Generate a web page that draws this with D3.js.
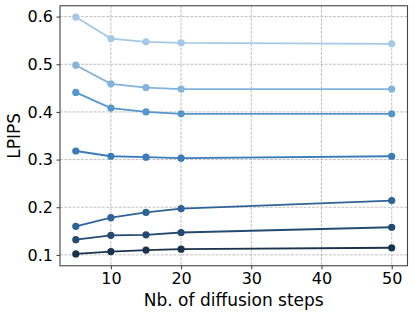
<!DOCTYPE html>
<html>
<head>
<meta charset="utf-8">
<script src="https://cdn.jsdelivr.net/npm/d3@7"></script>
<style>
  html, body { margin: 0; padding: 0; background: #fff; }
  svg { display: block; font-family: "DejaVu Sans", sans-serif; }
</style>
</head>
<body>
<svg id="chart" width="415" height="313"></svg>
<script>
const steps = [5, 10, 15, 20, 50];
const series1 = [0.599, 0.554, 0.547, 0.545, 0.543];
const series2 = [0.498, 0.459, 0.451, 0.448, 0.448];
const series3 = [0.441, 0.408, 0.400, 0.396, 0.396];
const series4 = [0.318, 0.307, 0.305, 0.303, 0.307];
const series5 = [0.160, 0.178, 0.189, 0.197, 0.214];
const series6 = [0.132, 0.141, 0.142, 0.147, 0.158];
const series7 = [0.102, 0.107, 0.110, 0.112, 0.115];
const seriesColors = ["#a5c8e5", "#82b3db", "#5596cd", "#3a7cba", "#2d6396", "#234b72", "#1a334d"];
const xTicks = [10, 20, 30, 40, 50];
const yTicks = [0.1, 0.2, 0.3, 0.4, 0.5, 0.6];
const xLabel = "Nb. of diffusion steps";
const yLabel = "LPIPS";

const allSeries = [series1, series2, series3, series4, series5, series6, series7];

const m = { left: 60, right: 407.5, top: 5.75, bottom: 265.75 };
const svg = d3.select("#chart");

const x = d3.scaleLinear().domain([2.75, 52.25]).range([m.left, m.right]);
const y = d3.scaleLinear().domain([0.0772, 0.6228]).range([m.bottom, m.top]);

// grid
const grid = svg.append("g");
grid.selectAll("line.gx").data(xTicks).enter().append("line")
  .attr("x1", d => x(d)).attr("x2", d => x(d))
  .attr("y1", m.top).attr("y2", m.bottom)
  .attr("stroke", "#b0b0b0").attr("stroke-width", 0.8).attr("stroke-dasharray", "2.9,1.3");
grid.selectAll("line.gy").data(yTicks).enter().append("line")
  .attr("y1", d => y(d)).attr("y2", d => y(d))
  .attr("x1", m.left).attr("x2", m.right)
  .attr("stroke", "#b0b0b0").attr("stroke-width", 0.8).attr("stroke-dasharray", "2.9,1.3");

// lines and points
const line = d3.line().x((d, i) => x(steps[i])).y(d => y(d));
allSeries.forEach((s, k) => {
  const g = svg.append("g");
  g.append("path").attr("d", line(s)).attr("fill", "none")
    .attr("stroke", seriesColors[k]).attr("stroke-width", 1.8);
  g.selectAll("circle").data(s).enter().append("circle")
    .attr("cx", (d, i) => x(steps[i])).attr("cy", d => y(d)).attr("r", 3.6)
    .attr("fill", seriesColors[k]);
});

// axes
const xAxis = d3.axisBottom(x).tickValues(xTicks).tickFormat(d3.format("d")).tickSize(3.5).tickPadding(3.5);
const yAxis = d3.axisLeft(y).tickValues(yTicks).tickFormat(d3.format(".1f")).tickSize(3.5).tickPadding(3.5);

const gx = svg.append("g").attr("transform", `translate(0,${m.bottom})`).call(xAxis);
const gy = svg.append("g").attr("transform", `translate(${m.left},0)`).call(yAxis);
[gx, gy].forEach(g => {
  g.select(".domain").remove();
  g.selectAll(".tick line").attr("stroke", "#000").attr("stroke-width", 0.8);
  g.selectAll(".tick text").attr("fill", "#000").style("font-size", "16px")
    .style("font-family", "'DejaVu Sans', sans-serif");
});

// frame
svg.append("rect").attr("x", m.left).attr("y", m.top)
  .attr("width", m.right - m.left).attr("height", m.bottom - m.top)
  .attr("fill", "none").attr("stroke", "#444").attr("stroke-width", 1.1);

// labels
svg.append("text").attr("x", (m.left + m.right) / 2).attr("y", 305.5)
  .attr("text-anchor", "middle").style("font-size", "17px").attr("fill", "#000").text(xLabel);
svg.append("text").attr("transform", `translate(19.5,${(m.top + m.bottom) / 2}) rotate(-90)`)
  .attr("text-anchor", "middle").style("font-size", "17px").attr("fill", "#000").text(yLabel);
</script>
</body>
</html>
